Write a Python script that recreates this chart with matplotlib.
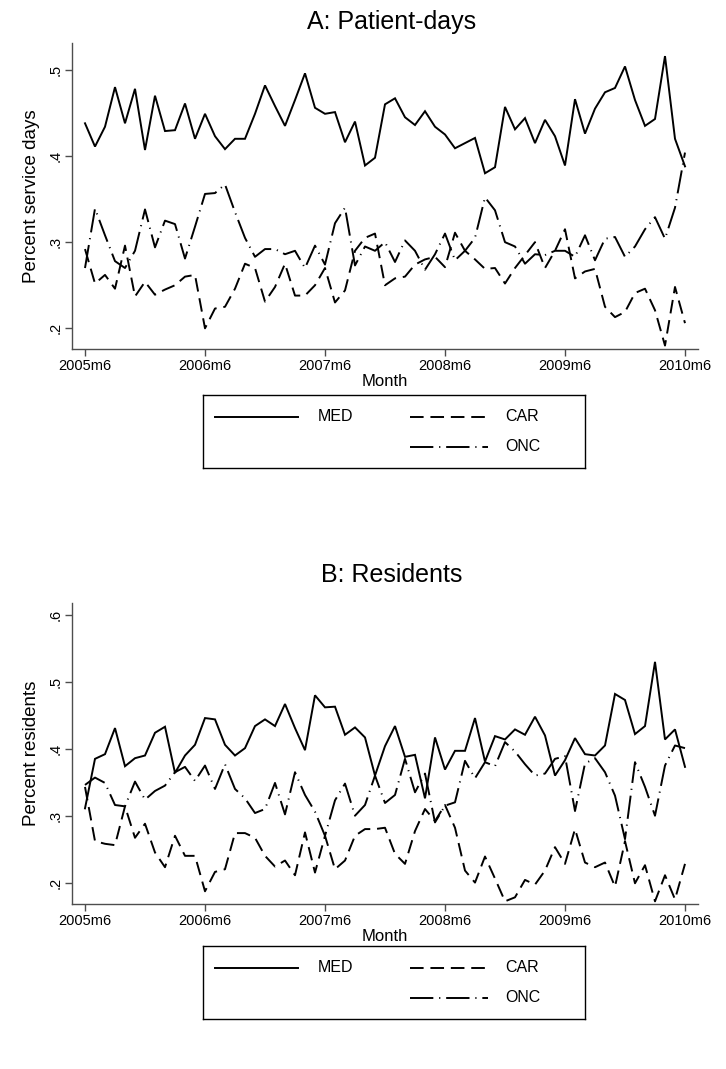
"""
Monthly service shares (MED / CAR / ONC), two panels in Stata style.
"""
import numpy as np
import pandas as pd
import matplotlib
matplotlib.use('Agg')
import matplotlib.pyplot as plt

plt.rcParams['font.family'] = ['Liberation Sans', 'DejaVu Sans']

# months 2005m6 .. 2010m6
months = pd.period_range('2005-06', '2010-06', freq='M')
month_labels = [f"{p.year}m{p.month}" for p in months]

# Panel A: share of patient-days
med_days = [0.438, 0.411, 0.434, 0.480, 0.438, 0.478, 0.407, 0.470, 0.429, 0.430,
            0.461, 0.420, 0.449, 0.423, 0.408, 0.420, 0.420, 0.449, 0.482, 0.458,
            0.435, 0.465, 0.496, 0.456, 0.449, 0.451, 0.416, 0.440, 0.389, 0.398,
            0.460, 0.467, 0.445, 0.436, 0.452, 0.434, 0.425, 0.409, 0.415, 0.421,
            0.380, 0.387, 0.457, 0.431, 0.444, 0.415, 0.442, 0.423, 0.389, 0.466,
            0.426, 0.455, 0.474, 0.479, 0.504, 0.465, 0.435, 0.443, 0.516, 0.420,
            0.388]
car_days = [0.292, 0.252, 0.262, 0.246, 0.296, 0.237, 0.254, 0.239, 0.245, 0.250,
            0.260, 0.262, 0.200, 0.223, 0.225, 0.246, 0.275, 0.270, 0.231, 0.248,
            0.275, 0.238, 0.238, 0.250, 0.270, 0.230, 0.244, 0.290, 0.305, 0.310,
            0.250, 0.258, 0.260, 0.274, 0.280, 0.283, 0.271, 0.311, 0.290, 0.280,
            0.269, 0.270, 0.252, 0.270, 0.285, 0.300, 0.270, 0.290, 0.315, 0.258,
            0.266, 0.269, 0.225, 0.213, 0.219, 0.241, 0.246, 0.221, 0.180, 0.248,
            0.206]
onc_days = [0.270, 0.339, 0.308, 0.278, 0.270, 0.290, 0.338, 0.294, 0.325, 0.321,
            0.281, 0.318, 0.356, 0.357, 0.367, 0.335, 0.305, 0.283, 0.292, 0.292,
            0.286, 0.290, 0.270, 0.296, 0.274, 0.322, 0.340, 0.273, 0.295, 0.290,
            0.300, 0.277, 0.302, 0.290, 0.268, 0.286, 0.310, 0.279, 0.290, 0.305,
            0.352, 0.337, 0.300, 0.295, 0.275, 0.286, 0.285, 0.290, 0.290, 0.283,
            0.308, 0.279, 0.304, 0.306, 0.283, 0.295, 0.315, 0.329, 0.304, 0.340,
            0.404]

# Panel B: share of residents
med_res = [0.311, 0.385, 0.392, 0.431, 0.374, 0.386, 0.390, 0.424, 0.433, 0.364,
           0.390, 0.406, 0.446, 0.444, 0.406, 0.390, 0.401, 0.434, 0.444, 0.434,
           0.467, 0.431, 0.398, 0.480, 0.462, 0.463, 0.421, 0.432, 0.417, 0.360,
           0.404, 0.434, 0.388, 0.391, 0.326, 0.417, 0.369, 0.397, 0.397, 0.446,
           0.381, 0.419, 0.414, 0.429, 0.421, 0.448, 0.420, 0.360, 0.383, 0.416,
           0.392, 0.390, 0.405, 0.482, 0.473, 0.422, 0.434, 0.530, 0.414, 0.429,
           0.373]
car_res = [0.343, 0.262, 0.258, 0.256, 0.314, 0.267, 0.288, 0.245, 0.223, 0.270,
           0.240, 0.240, 0.187, 0.216, 0.220, 0.274, 0.274, 0.267, 0.240, 0.224,
           0.233, 0.211, 0.275, 0.215, 0.270, 0.220, 0.233, 0.270, 0.280, 0.280,
           0.282, 0.243, 0.228, 0.277, 0.310, 0.292, 0.316, 0.282, 0.218, 0.200,
           0.239, 0.206, 0.172, 0.178, 0.204, 0.197, 0.218, 0.253, 0.228, 0.280,
           0.230, 0.223, 0.230, 0.194, 0.262, 0.199, 0.226, 0.172, 0.211, 0.175,
           0.228]
onc_res = [0.346, 0.357, 0.349, 0.316, 0.314, 0.351, 0.324, 0.337, 0.345, 0.365,
           0.373, 0.352, 0.375, 0.340, 0.377, 0.340, 0.326, 0.304, 0.310, 0.349,
           0.302, 0.365, 0.331, 0.306, 0.270, 0.323, 0.348, 0.300, 0.316, 0.360,
           0.319, 0.331, 0.385, 0.335, 0.363, 0.290, 0.315, 0.320, 0.382, 0.356,
           0.380, 0.374, 0.410, 0.396, 0.377, 0.360, 0.363, 0.385, 0.389, 0.307,
           0.378, 0.386, 0.365, 0.330, 0.265, 0.380, 0.343, 0.300, 0.375, 0.405,
           0.401]

ticks_a = [0.2, 0.3, 0.4, 0.5]
ticks_b = [0.2, 0.3, 0.4, 0.5, 0.6]

W, H = 726, 1069
AX_COL = '0.3'
LW = 1.4
styles = {
    'MED': dict(color='black', lw=LW, linestyle='-'),
    'CAR': dict(color='black', lw=LW, linestyle=(0, (7, 3.5))),
    'ONC': dict(color='black', lw=LW, linestyle=(0, (12, 3, 0.6, 3))),
}


def px_box(left, top, right, bottom):
    return [left / W, 1 - bottom / H, (right - left) / W, (bottom - top) / H]


def draw_panel(ax, series, yticks, ylim, ylabel):
    x = np.arange(len(months))
    for name, vals in series:
        ax.plot(x, vals, **styles[name], solid_joinstyle='miter')
    ax.set_xlim(-1.3, len(months) - 1 + 1.3)
    ax.set_ylim(*ylim)
    ax.set_xticks(x[::12])
    ax.set_xticklabels(month_labels[::12])
    ax.set_yticks(yticks)
    ax.set_yticklabels([f"{t:.1f}".lstrip('0') for t in yticks],
                       rotation=90, va='center')
    for side in ['top', 'right']:
        ax.spines[side].set_visible(False)
    for side in ['left', 'bottom']:
        ax.spines[side].set_color(AX_COL)
        ax.spines[side].set_linewidth(1.0)
    ax.tick_params(length=5, width=1.0, color=AX_COL, labelsize=10.5, pad=2)
    ax.set_xlabel('Month', fontsize=12, labelpad=1)
    ax.set_ylabel(ylabel, fontsize=13.5, labelpad=6)


def draw_legend(box):
    lg = fig.add_axes(px_box(*box))
    w = box[2] - box[0]
    h = box[3] - box[1]
    lg.set_xlim(0, w)
    lg.set_ylim(h, 0)
    lg.set_xticks([])
    lg.set_yticks([])
    for s in lg.spines.values():
        s.set_color('black')
        s.set_linewidth(1.0)
    r1, r2 = h * 0.30, h * 0.71
    keys = [('MED', 12, 95, 115, r1), ('CAR', 207, 285, 302, r1),
            ('ONC', 207, 285, 302, r2)]
    for name, x0, x1, tx, yy in keys:
        lg.plot([x0, x1], [yy, yy], **styles[name])
        lg.text(tx, yy, name, fontsize=11.5, va='center', ha='left')


fig = plt.figure(figsize=(W / 100, H / 100), dpi=100)

axA = fig.add_axes(px_box(72, 43, 698, 349))
draw_panel(axA, [('MED', med_days), ('CAR', car_days), ('ONC', onc_days)],
           ticks_a, (0.176, 0.5312), 'Percent service days')
fig.text(392 / W, 1 - 22 / H, 'A: Patient-days', fontsize=18,
         ha='center', va='center')
draw_legend((203, 395, 585, 468))

axB = fig.add_axes(px_box(72, 603, 698, 904))
draw_panel(axB, [('MED', med_res), ('CAR', car_res), ('ONC', onc_res)],
           ticks_b, (0.168, 0.618), 'Percent residents')
fig.text(392 / W, 1 - 575 / H, 'B: Residents', fontsize=18,
         ha='center', va='center')
draw_legend((203, 946, 585, 1019))

fig.savefig('out.png', dpi=100, facecolor='white')
